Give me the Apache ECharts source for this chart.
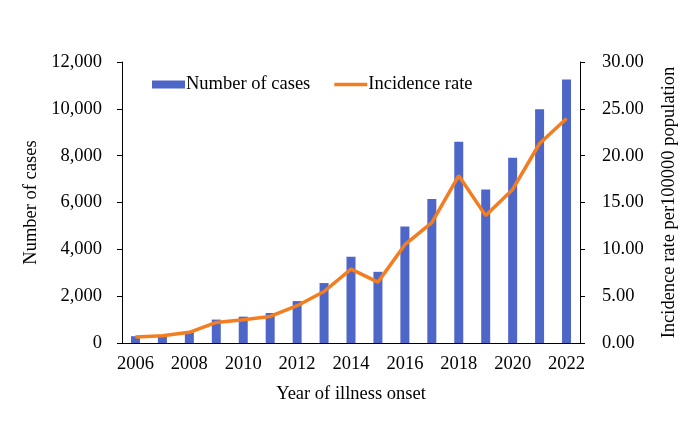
<!DOCTYPE html>
<html>
<head>
<meta charset="utf-8">
<script src="https://cdn.jsdelivr.net/npm/echarts@6/dist/echarts.min.js"></script>
<style>
  html, body { margin: 0; padding: 0; background: #fff; }
  #main { width: 700px; height: 425px; }
</style>
</head>
<body>
<div id="main"></div>
<script>
var years = ['2006', '2007', '2008', '2009', '2010', '2011', '2012', '2013', '2014',
  '2015', '2016', '2017', '2018', '2019', '2020', '2021', '2022']
// 病例数
var cases = [290, 300, 460, 1000, 1125, 1280, 1790, 2560, 3680, 3040, 4970, 6150, 8590, 6560, 7910, 9980, 11250]
// 发病率 /10万
var rate = [0.64, 0.78, 1.14, 2.2, 2.49, 2.84, 3.98, 5.5, 7.88, 6.5, 10.5, 12.85, 17.86, 13.6, 16.4, 21.3, 23.96]

var font = '"Liberation Serif", "Times New Roman", serif'
var chart = echarts.init(document.getElementById('main'), null, { renderer: 'canvas' })

var option = {
  backgroundColor: '#fff',
  textStyle: { fontFamily: font, color: '#000' },
  legend: {
    left: 147,
    top: 70,
    itemGap: 24,
    itemWidth: 33,
    itemHeight: 8,
    textStyle: { fontFamily: font, fontSize: 18.5, color: '#000', padding: [0, 0, 0, -4] },
    data: [
      { name: 'Number of cases', icon: 'rect' },
      { name: 'Incidence rate', icon: 'path://M0,0L33,0L33,3.5L0,3.5Z', itemStyle: { color: '#f47d20' } }
    ]
  },
  grid: { left: 122, right: 120, top: 62, bottom: 82 },
  xAxis: {
    type: 'category',
    data: years,
    name: 'Year of illness onset',
    nameLocation: 'middle',
    nameGap: 42,
    nameTextStyle: { fontFamily: font, fontSize: 18.5, color: '#000' },
    axisLine: { lineStyle: { color: '#000', width: 1 } },
    axisTick: { show: false },
    axisLabel: { interval: 1, margin: 12, fontFamily: font, fontSize: 18.5, color: '#000' }
  },
  yAxis: [{
    type: 'value',
    min: 0,
    max: 12000,
    interval: 2000,
    name: 'Number of cases',
    nameLocation: 'middle',
    nameGap: 78,
    nameTextStyle: { fontFamily: font, fontSize: 18.5, color: '#000' },
    axisLine: { show: true, lineStyle: { color: '#000', width: 1 } },
    axisTick: { show: true, length: 5, lineStyle: { color: '#000' } },
    splitLine: { show: false },
    axisLabel: {
      margin: 20,
      fontFamily: font,
      fontSize: 18.5,
      color: '#000',
      formatter: function (v) { return v.toLocaleString('en-US') }
    }
  }, {
    type: 'value',
    min: 0,
    max: 30,
    interval: 5,
    name: 'Incidence rate per100000 population',
    nameLocation: 'middle',
    nameGap: 80,
    nameTextStyle: { fontFamily: font, fontSize: 18.5, color: '#000' },
    axisLine: { show: true, lineStyle: { color: '#000', width: 1 } },
    axisTick: { show: true, length: 5, lineStyle: { color: '#000' } },
    splitLine: { show: false },
    axisLabel: {
      margin: 22,
      fontFamily: font,
      fontSize: 18.5,
      color: '#000',
      formatter: function (v) { return v.toFixed(2) }
    }
  }],
  series: [{
    name: 'Number of cases',
    type: 'bar',
    data: cases,
    barWidth: 9,
    itemStyle: { color: '#4e66c8' }
  }, {
    name: 'Incidence rate',
    type: 'line',
    yAxisIndex: 1,
    data: rate,
    symbol: 'none',
    lineStyle: { color: '#f47d20', width: 3.5 },
    itemStyle: { color: '#f47d20' }
  }]
}

chart.setOption(option)
</script>
</body>
</html>
